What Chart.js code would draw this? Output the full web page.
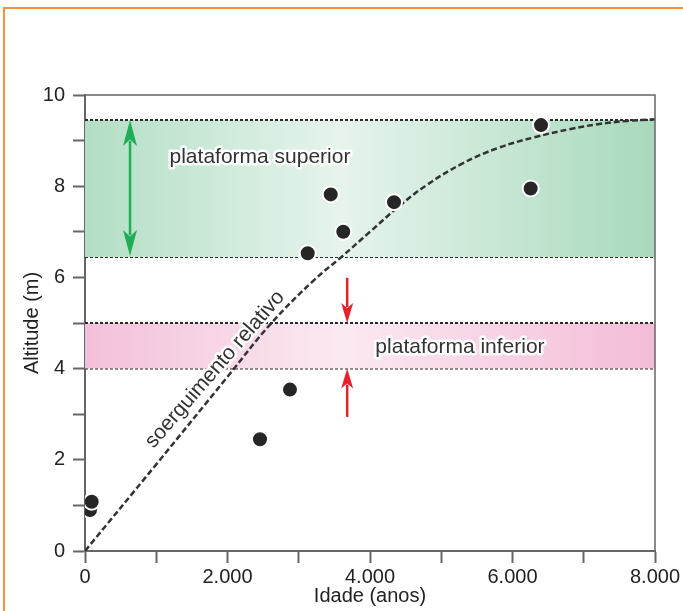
<!DOCTYPE html>
<html>
<head>
<meta charset="utf-8">
<script src="https://cdn.jsdelivr.net/npm/chart.js@4.4.1/dist/chart.umd.min.js"></script>
<style>
    html, body { margin: 0; padding: 0; background: #fff; }
    #wrap { position: relative; width: 683px; height: 611px; overflow: hidden; }
    #moldura { position: absolute; left: 3px; top: 7px; width: 720px; height: 720px;
               border-top: 2px solid #f3923b; border-left: 2px solid #f3923b; }
    canvas { position: absolute; left: 0; top: 0; }
</style>
</head>
<body>
<div id="wrap">
    <div id="moldura"></div>
    <canvas id="grafico" width="683" height="611"></canvas>
</div>
<script>
// idades (anos) e altitudes (m) das amostras
const idades = [70, 94, 2456, 2877, 3126, 3449, 3625, 4337, 6255, 6400];
const altitudes = [0.90, 1.08, 2.45, 3.54, 6.53, 7.82, 7.00, 7.65, 7.95, 9.34];

// curva de soerguimento relativo
const curvaIdade = [0, 1000, 2000, 2600, 3200, 3600, 4000, 4400, 4800, 5300, 5800, 6300, 6800, 7200, 7600, 8000];
const curvaAltitude = [0, 1.9, 3.82, 4.97, 5.92, 6.45, 7.0, 7.55, 8.03, 8.5, 8.84, 9.07, 9.25, 9.36, 9.43, 9.47];

// faixas das plataformas [base, topo]
const plataformaSuperior = [6.45, 9.45];
const plataformaInferior = [4.0, 5.0];

// setas: [idade, altitude inicial, altitude final]
const setaVerde = [632, 6.47, 9.45];
const setaDescendo = [3680, 5.99, 5.0];
const setaSubindo = [3680, 2.94, 4.0];

const xTickLabels = ['0', '2.000', '4.000', '6.000', '8.000'];
const yTickLabels = ['0', '2', '4', '6', '8', '10'];

const fonte = '"Liberation Sans", Arial, sans-serif';

function gradiente(cores) {
    return function (context) {
        const chart = context.chart;
        const area = chart.chartArea;
        if (!area) return cores[0];
        const g = chart.ctx.createLinearGradient(area.left, 0, area.right, 0);
        g.addColorStop(0, cores[0]);
        g.addColorStop(0.45, cores[1]);
        g.addColorStop(1, cores[2]);
        return g;
    };
}

function faixa(valor, fill, cores) {
    return {
        type: 'line',
        data: [{ x: 0, y: valor }, { x: 8000, y: valor }],
        borderColor: '#2a2a2a',
        borderWidth: 2,
        borderDash: [3, 2],
        pointRadius: 0,
        fill: fill,
        backgroundColor: cores ? gradiente(cores) : 'transparent',
        order: 5
    };
}

function desenharSeta(ctx, x, y0, y1, cor, cabeca, largura, duas) {
    const dir = y1 < y0 ? -1 : 1;
    ctx.save();
    ctx.strokeStyle = cor;
    ctx.fillStyle = cor;
    ctx.lineWidth = 2.5;
    ctx.beginPath();
    ctx.moveTo(x, duas ? y0 + dir * cabeca * 0.8 : y0);
    ctx.lineTo(x, y1 - dir * cabeca * 0.8);
    ctx.stroke();
    const ponta = (yp, d) => {
        ctx.beginPath();
        ctx.moveTo(x, yp);
        ctx.lineTo(x - largura / 2, yp - d * cabeca);
        ctx.lineTo(x, yp - d * cabeca * 0.75);
        ctx.lineTo(x + largura / 2, yp - d * cabeca);
        ctx.closePath();
        ctx.fill();
    };
    ponta(y1, dir);
    if (duas) ponta(y0, -dir);
    ctx.restore();
}

function texto(ctx, str, x, y, ang) {
    ctx.save();
    ctx.translate(x, y);
    ctx.rotate(ang || 0);
    ctx.font = '21px ' + fonte;
    ctx.textAlign = 'center';
    ctx.textBaseline = 'middle';
    ctx.lineJoin = 'round';
    ctx.lineWidth = 5;
    ctx.strokeStyle = 'rgba(255,255,255,0.95)';
    ctx.strokeText(str, 0, 0);
    ctx.fillStyle = '#333';
    ctx.fillText(str, 0, 0);
    ctx.restore();
}

const decoracoes = {
    id: 'decoracoes',
    afterDatasetsDraw(chart) {
        const ctx = chart.ctx;
        const sx = chart.scales.x, sy = chart.scales.y;
        desenharSeta(ctx, sx.getPixelForValue(setaVerde[0]), sy.getPixelForValue(setaVerde[1]),
            sy.getPixelForValue(setaVerde[2]), '#1fae56', 26, 14, true);
        desenharSeta(ctx, sx.getPixelForValue(setaDescendo[0]), sy.getPixelForValue(setaDescendo[1]),
            sy.getPixelForValue(setaDescendo[2]), '#e8202a', 20, 12, false);
        desenharSeta(ctx, sx.getPixelForValue(setaSubindo[0]), sy.getPixelForValue(setaSubindo[1]),
            sy.getPixelForValue(setaSubindo[2]), '#e8202a', 20, 12, false);

        texto(ctx, 'plataforma superior', sx.getPixelForValue(2456), sy.getPixelForValue(8.64));
        texto(ctx, 'plataforma inferior', sx.getPixelForValue(5263), sy.getPixelForValue(4.46));
        texto(ctx, 'soerguimento relativo', sx.getPixelForValue(1825), sy.getPixelForValue(3.98), -49 * Math.PI / 180);
    },
    afterDraw(chart) {
        const a = chart.chartArea;
        const ctx = chart.ctx;
        ctx.save();
        ctx.strokeStyle = '#666';
        ctx.lineWidth = 1.5;
        ctx.beginPath();
        ctx.moveTo(a.left, a.top);
        ctx.lineTo(a.right, a.top);
        ctx.lineTo(a.right, a.bottom);
        ctx.stroke();
        ctx.restore();
    }
};

const ctx = document.getElementById('grafico').getContext('2d');
new Chart(ctx, {
    type: 'scatter',
    data: {
        datasets: [
            {
                type: 'scatter',
                data: idades.map((x, i) => ({ x: x, y: altitudes[i] })),
                backgroundColor: '#262626',
                borderColor: '#fff',
                borderWidth: 2,
                pointRadius: 8,
                order: 0
            },
            {
                type: 'line',
                data: curvaIdade.map((x, i) => ({ x: x, y: curvaAltitude[i] })),
                borderColor: '#333',
                borderWidth: 2.5,
                borderDash: [6, 3],
                pointRadius: 0,
                tension: 0.4,
                fill: false,
                order: 1
            },
            faixa(plataformaSuperior[1], '+1', ['#b3dec5', '#e6f4ec', '#a8d9bc']),
            faixa(plataformaSuperior[0], false),
            faixa(plataformaInferior[1], '+1', ['#f3c0da', '#fbe9f2', '#f3bcd7']),
            faixa(plataformaInferior[0], false)
        ]
    },
    options: {
        responsive: false,
        animation: false,
        devicePixelRatio: 1,
        layout: { padding: { top: 95, right: 28, left: 0, bottom: 0 } },
        plugins: { legend: { display: false }, tooltip: { enabled: false } },
        scales: {
            x: {
                type: 'linear',
                min: 0,
                max: 8000,
                afterFit: s => { s.height = 60; },
                ticks: {
                    stepSize: 1000,
                    autoSkip: false,
                    maxRotation: 0,
                    padding: 2,
                    color: '#222',
                    font: { size: 20, family: fonte },
                    callback: v => (v % 2000 === 0 ? xTickLabels[v / 2000] : '')
                },
                grid: { drawOnChartArea: false, drawTicks: true, tickLength: 12, tickColor: '#666', tickWidth: 2 },
                border: { display: true, color: '#666', width: 2 },
                title: {
                    display: true,
                    text: 'Idade (anos)',
                    color: '#222',
                    font: { size: 20, family: fonte },
                    padding: { top: 0, bottom: 3 }
                }
            },
            y: {
                min: 0,
                max: 10,
                afterFit: s => { s.width = 85; },
                ticks: {
                    stepSize: 1,
                    autoSkip: false,
                    padding: 8,
                    color: '#222',
                    font: { size: 20, family: fonte },
                    callback: v => (v % 2 === 0 ? yTickLabels[v / 2] : '')
                },
                grid: { drawOnChartArea: false, drawTicks: true, tickLength: 12, tickColor: '#666', tickWidth: 2 },
                border: { display: true, color: '#666', width: 2 },
                title: {
                    display: true,
                    text: 'Altitude (m)',
                    color: '#222',
                    font: { size: 20, family: fonte },
                    padding: { top: 20, bottom: 0 }
                }
            }
        }
    },
    plugins: [decoracoes]
});
</script>
</body>
</html>
